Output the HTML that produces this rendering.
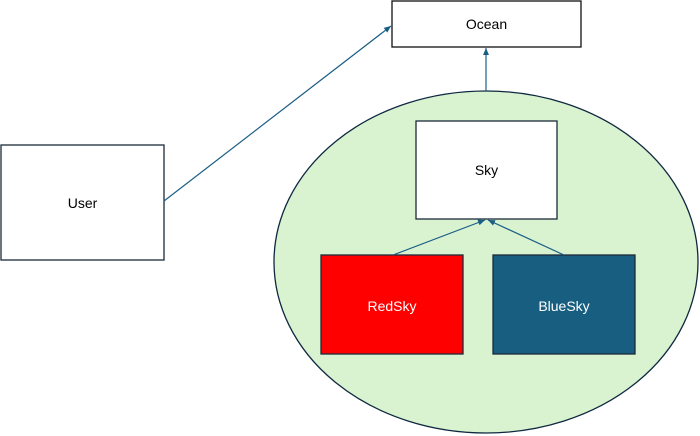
<!DOCTYPE html>
<html><head><meta charset="utf-8"><style>
html,body{margin:0;padding:0;background:#fff;width:700px;height:436px;overflow:hidden}
text{font-family:"Liberation Sans",sans-serif;font-size:14px}
</style></head><body>
<svg width="700" height="436" viewBox="0 0 700 436" xmlns="http://www.w3.org/2000/svg">
<defs><marker id="a" markerWidth="8" markerHeight="8" refX="7" refY="4" orient="auto" markerUnits="userSpaceOnUse"><path d="M0,1 L7,4 L0,7 Z" fill="#1a5e86"/></marker></defs>
<ellipse cx="486" cy="262" rx="212" ry="171" fill="#d9f2d0" stroke="#0e2841" stroke-width="1.3"/>
<rect x="392" y="1" width="189" height="46" fill="#fff" stroke="#111" stroke-width="1.3"/>
<text x="486.5" y="29" text-anchor="middle">Ocean</text>
<rect x="1" y="145" width="163" height="115" fill="#fff" stroke="#1b2b3a" stroke-width="1.3"/>
<text x="82.5" y="208" text-anchor="middle">User</text>
<rect x="416" y="121" width="141" height="98" fill="#fff" stroke="#1b2b3a" stroke-width="1.3"/>
<text x="486.5" y="175" text-anchor="middle">Sky</text>
<rect x="321" y="255" width="142" height="99" fill="#ff0000" stroke="#1b2b3a" stroke-width="1.3"/>
<text x="392" y="311" text-anchor="middle" fill="#fff">RedSky</text>
<rect x="493" y="255" width="142" height="99" fill="#175e80" stroke="#1b2b3a" stroke-width="1.3"/>
<text x="564" y="311" text-anchor="middle" fill="#fff">BlueSky</text>
<g stroke="#1a5e86" stroke-width="1.2" fill="none">
<line x1="164" y1="201" x2="391" y2="26" marker-end="url(#a)"/>
<line x1="486" y1="91" x2="486" y2="48" marker-end="url(#a)"/>
<line x1="393" y1="255" x2="485" y2="220" marker-end="url(#a)"/>
<line x1="564" y1="255" x2="488" y2="220" marker-end="url(#a)"/>
</g>
</svg>
</body></html>
